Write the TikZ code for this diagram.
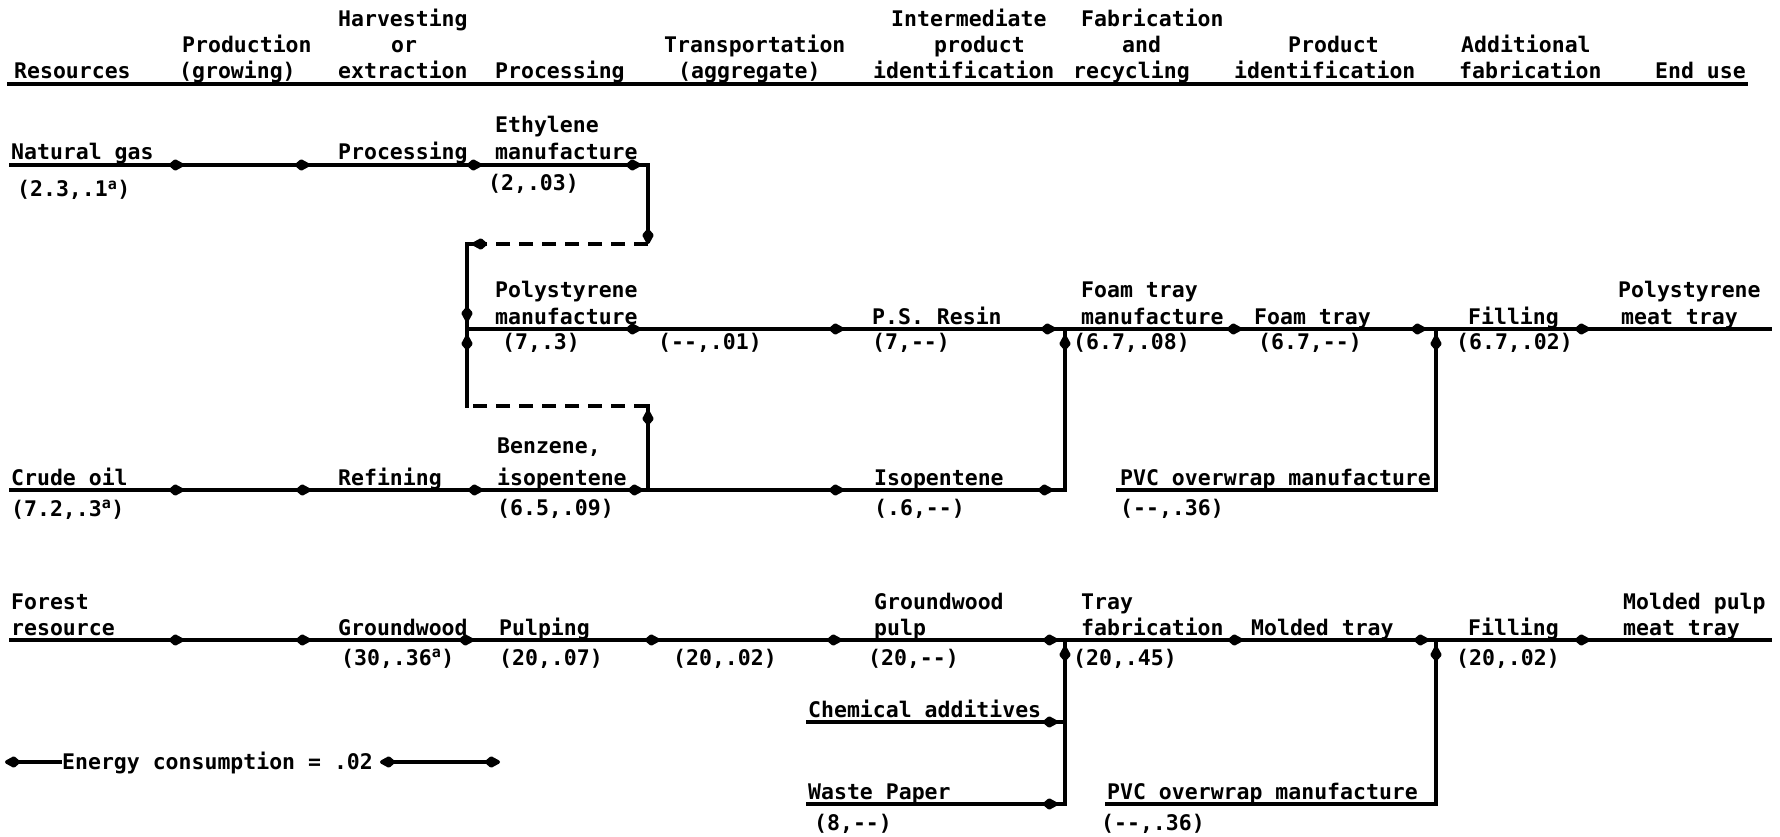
\documentclass[tikz,border=0pt]{standalone}
\usepackage{fontspec}
\setmonofont{DejaVu Sans Mono}[BoldFont={DejaVu Sans Mono Bold}]
\usetikzlibrary{arrows.meta}

\begin{document}
\begin{tikzpicture}[x=1pt,y=-1pt,
  lbl/.style={anchor=base west, inner sep=0pt,
    font=\ttfamily\bfseries\fontsize{21.5}{24}\selectfont},
  wire/.style={line width=3.6pt, line cap=rect},
  tip/.tip={Kite[length=18pt,width=12pt,inset=7pt,round]},
  flow/.style={wire, -tip},
  feed/.style={line width=3.6pt, dash pattern=on 14pt off 9pt},
  feedflow/.style={feed, -tip}]

\useasboundingbox (0,0) rectangle (1780,837);
\fill[white] (0,0) rectangle (1780,837);

% ---------- column headings ----------
\node[lbl] (hHarv)   at (338,27)  {Harvesting};
\node[lbl] (hInter)  at (891,27)  {Intermediate};
\node[lbl] (hFab)    at (1081,27) {Fabrication};
\node[lbl] (hProd)   at (182,53)  {Production};
\node[lbl] (hOr)     at (391,53)  {or};
\node[lbl] (hTrans)  at (664,53)  {Transportation};
\node[lbl] (hProdct) at (934,53)  {product};
\node[lbl] (hAnd)    at (1122,53) {and};
\node[lbl] (hProdB)  at (1288,53) {Product};
\node[lbl] (hAddl)   at (1461,53) {Additional};
\node[lbl] (hRes)    at (14,79)   {Resources};
\node[lbl] (hGrow)   at (179,79)  {(growing)};
\node[lbl] (hExtr)   at (338,79)  {extraction};
\node[lbl] (hProc)   at (495,79)  {Processing};
\node[lbl] (hAggr)   at (678,79)  {(aggregate)};
\node[lbl] (hIdA)    at (873,79)  {identification};
\node[lbl] (hRecyc)  at (1073,79) {recycling};
\node[lbl] (hIdB)    at (1234,79) {identification};
\node[lbl] (hFabB)   at (1459,79) {fabrication};
\node[lbl] (hEnd)    at (1655,79) {End use};
\coordinate (hl0) at (9,84);
\coordinate (hl1) at (1746,84);
\draw[wire] (hl0) -- (hl1);

% ---------- natural gas chain ----------
\node[lbl] (ngas)  at (11,160)  {Natural gas};
\node[lbl] (ngasv) at (17,197)  {(2.3,.1\textsuperscript{a})};
\node[lbl] (ngpr)  at (338,160) {Processing};
\node[lbl] (ethA)  at (495,133) {Ethylene};
\node[lbl] (ethB)  at (495,160) {manufacture};
\node[lbl] (ethv)  at (488,191) {(2,.03)};

\coordinate (g0) at (11,165);
\coordinate (g1) at (184,165);
\coordinate (g2) at (310,165);
\coordinate (g3) at (482,165);
\coordinate (g4) at (641,165);
\coordinate (g5) at (648,165);
\coordinate (g6) at (648,244);
\coordinate (g7) at (472,244);
\coordinate (g8) at (467,244);
\coordinate (g9) at (467,322);
\coordinate (ps) at (467,329);
\draw[flow] (g0) -- (g1);
\draw[flow] (g1) -- (g2);
\draw[flow] (g2) -- (g3);
\draw[flow] (g3) -- (g4);
\draw[wire] (g4) -- (g5);
\draw[flow] (g5) -- (g6);
\draw[feedflow] (g6) -- (g7);
\draw[wire] (g7) -- (g8);
\draw[flow] (g8) -- (g9);
\draw[wire] (g9) -- (ps);

% ---------- polystyrene tray chain ----------
\node[lbl] (psA)   at (495,297)  {Polystyrene};
\node[lbl] (psB)   at (495,324)  {manufacture};
\node[lbl] (psv)   at (502,349)  {(7,.3)};
\node[lbl] (trv)   at (658,349)  {(-{}-,.01)};
\node[lbl] (resin) at (872,324)  {P.S. Resin};
\node[lbl] (resv)  at (872,349)  {(7,-{}-)};
\node[lbl] (ftmA)  at (1081,297) {Foam tray};
\node[lbl] (ftmB)  at (1081,324) {manufacture};
\node[lbl] (ftmv)  at (1073,349) {(6.7,.08)};
\node[lbl] (ft)    at (1254,324) {Foam tray};
\node[lbl] (ftv)   at (1258,349) {(6.7,-{}-)};
\node[lbl] (fill)  at (1468,324) {Filling};
\node[lbl] (fillv) at (1456,349) {(6.7,.02)};
\node[lbl] (pmtA)  at (1618,297) {Polystyrene};
\node[lbl] (pmtB)  at (1621,324) {meat tray};

\coordinate (s1) at (641,329);
\coordinate (s2) at (844,329);
\coordinate (s3) at (1056,329);
\coordinate (sj1) at (1065,329);
\coordinate (s4) at (1242,329);
\coordinate (s5) at (1426,329);
\coordinate (sj2) at (1436,329);
\coordinate (s6) at (1590,329);
\coordinate (s7) at (1770,329);
\draw[flow] (ps) -- (s1);
\draw[flow] (s1) -- (s2);
\draw[flow] (s2) -- (s3);
\draw[wire] (s3) -- (sj1);
\draw[flow] (sj1) -- (s4);
\draw[flow] (s4) -- (s5);
\draw[wire] (s5) -- (sj2);
\draw[flow] (sj2) -- (s6);
\draw[wire] (s6) -- (s7);

% ---------- crude oil chain ----------
\node[lbl] (crude)  at (11,485)   {Crude oil};
\node[lbl] (crudev) at (11,516)   {(7.2,.3\textsuperscript{a})};
\node[lbl] (refin)  at (338,485)  {Refining};
\node[lbl] (benA)   at (497,453)  {Benzene,};
\node[lbl] (benB)   at (497,485)  {isopentene};
\node[lbl] (benv)   at (497,515)  {(6.5,.09)};
\node[lbl] (isop)   at (874,485)  {Isopentene};
\node[lbl] (isopv)  at (874,515)  {(.6,-{}-)};
\node[lbl] (pvcA)   at (1120,485) {PVC overwrap manufacture};
\node[lbl] (pvcAv)  at (1120,515) {(-{}-,.36)};

\coordinate (c0) at (11,490);
\coordinate (c1) at (184,490);
\coordinate (c2) at (311,490);
\coordinate (c3) at (483,490);
\coordinate (c4) at (643,490);
\coordinate (cj) at (648,490);
\coordinate (c5) at (844,490);
\coordinate (c6) at (1053,490);
\coordinate (c7) at (1065,490);
\coordinate (c8) at (1065,335);
\draw[flow] (c0) -- (c1);
\draw[flow] (c1) -- (c2);
\draw[flow] (c2) -- (c3);
\draw[flow] (c3) -- (c4);
\draw[wire] (c4) -- (cj);
\draw[flow] (cj) -- (c5);
\draw[flow] (c5) -- (c6);
\draw[wire] (c6) -- (c7);
\draw[flow] (c7) -- (c8);
\draw[wire] (c8) -- (sj1);

% benzene feed up into polystyrene manufacture
\coordinate (b1) at (648,410);
\coordinate (b2) at (648,406);
\coordinate (b3) at (467,406);
\coordinate (b4) at (467,335);
\draw[flow] (cj) -- (b1);
\draw[wire] (b1) -- (b2);
\draw[feed] (b2) -- (b3);
\draw[flow] (b3) -- (b4);
\draw[wire] (b4) -- (ps);

% PVC overwrap into foam tray filling
\coordinate (v0) at (1118,490);
\coordinate (v1) at (1436,490);
\coordinate (v2) at (1436,335);
\draw[wire] (v0) -- (v1);
\draw[flow] (v1) -- (v2);
\draw[wire] (v2) -- (sj2);

% ---------- forest / molded pulp chain ----------
\node[lbl] (forA)  at (11,609)   {Forest};
\node[lbl] (forB)  at (11,635)   {resource};
\node[lbl] (gw)    at (338,635)  {Groundwood};
\node[lbl] (gwv)   at (341,665)  {(30,.36\textsuperscript{a})};
\node[lbl] (pulp)  at (499,635)  {Pulping};
\node[lbl] (pulpv) at (499,665)  {(20,.07)};
\node[lbl] (tr2v)  at (673,665)  {(20,.02)};
\node[lbl] (gwpA)  at (874,609)  {Groundwood};
\node[lbl] (gwpB)  at (874,635)  {pulp};
\node[lbl] (gwpv)  at (868,665)  {(20,-{}-)};
\node[lbl] (tfA)   at (1081,609) {Tray};
\node[lbl] (tfB)   at (1081,635) {fabrication};
\node[lbl] (tfv)   at (1073,665) {(20,.45)};
\node[lbl] (mt)    at (1251,635) {Molded tray};
\node[lbl] (fl2)   at (1468,635) {Filling};
\node[lbl] (fl2v)  at (1456,665) {(20,.02)};
\node[lbl] (mptA)  at (1623,609) {Molded pulp};
\node[lbl] (mptB)  at (1623,635) {meat tray};
\node[lbl] (chem)  at (808,717)  {Chemical additives};
\node[lbl] (waste) at (808,799)  {Waste Paper};
\node[lbl] (wastv) at (814,830)  {(8,-{}-)};
\node[lbl] (pvcB)  at (1107,799) {PVC overwrap manufacture};
\node[lbl] (pvcBv) at (1101,830) {(-{}-,.36)};

\coordinate (f0) at (11,640);
\coordinate (f1) at (184,640);
\coordinate (f2) at (311,640);
\coordinate (f3) at (474,640);
\coordinate (f4) at (660,640);
\coordinate (f5) at (842,640);
\coordinate (f6) at (1058,640);
\coordinate (fj1) at (1065,640);
\coordinate (f7) at (1243,640);
\coordinate (f8) at (1429,640);
\coordinate (fj2) at (1436,640);
\coordinate (f9) at (1590,640);
\coordinate (f10) at (1770,640);
\draw[flow] (f0) -- (f1);
\draw[flow] (f1) -- (f2);
\draw[flow] (f2) -- (f3);
\draw[flow] (f3) -- (f4);
\draw[flow] (f4) -- (f5);
\draw[flow] (f5) -- (f6);
\draw[wire] (f6) -- (fj1);
\draw[flow] (fj1) -- (f7);
\draw[flow] (f7) -- (f8);
\draw[wire] (f8) -- (fj2);
\draw[flow] (fj2) -- (f9);
\draw[wire] (f9) -- (f10);

% additives and waste paper into tray fabrication
\coordinate (a0) at (808,722);
\coordinate (a1) at (1058,722);
\coordinate (a2) at (1065,722);
\coordinate (w0) at (808,804);
\coordinate (w1) at (1058,804);
\coordinate (w2) at (1065,804);
\coordinate (w3) at (1065,646);
\draw[flow] (a0) -- (a1);
\draw[wire] (a1) -- (a2);
\draw[flow] (w0) -- (w1);
\draw[wire] (w1) -- (w2);
\draw[flow] (w2) -- (w3);
\draw[wire] (w3) -- (fj1);

% PVC overwrap into molded tray filling
\coordinate (u0) at (1107,804);
\coordinate (u1) at (1436,804);
\coordinate (u2) at (1436,646);
\draw[wire] (u0) -- (u1);
\draw[flow] (u1) -- (u2);
\draw[wire] (u2) -- (fj2);

% ---------- scale key ----------
\node[lbl] (key) at (62,769) {Energy consumption = .02};
\coordinate (k0) at (60,762);
\coordinate (k1) at (5,762);
\coordinate (k2) at (380,762);
\coordinate (k3) at (500,762);
\draw[flow] (k0) -- (k1);
\draw[wire, tip-tip] (k2) -- (k3);

\end{tikzpicture}
\end{document}
